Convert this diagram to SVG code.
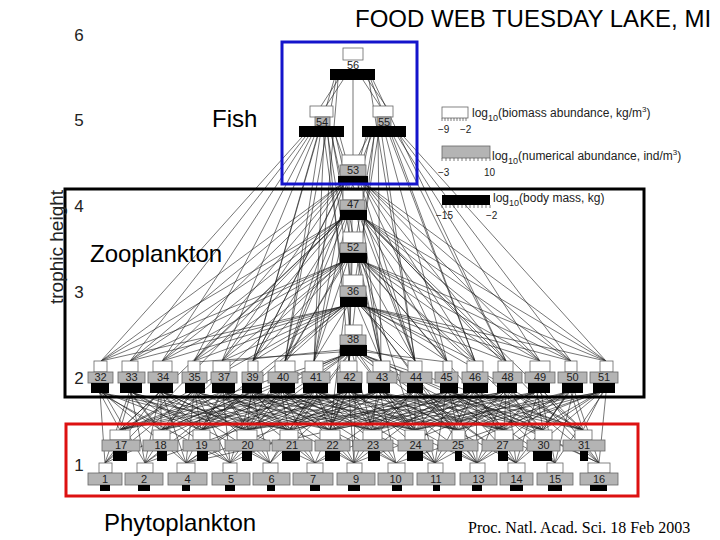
<svg xmlns="http://www.w3.org/2000/svg" width="720" height="540" viewBox="0 0 720 540">
<style>
.w{fill:#fff;stroke:#666;stroke-width:0.8}
.g{fill:#b4b4b4;stroke:#666;stroke-width:0.8}
.k{fill:#000}
.lb{font-family:"Liberation Sans",Arial,sans-serif;font-size:11px;text-anchor:middle;fill:#222}
.big{font-family:"Liberation Sans",Arial,sans-serif;font-size:24px;fill:#000}
.ax{font-family:"Liberation Sans",Arial,sans-serif;font-size:17px;fill:#222;text-anchor:middle}
.lg{font-family:"Liberation Sans",Arial,sans-serif;font-size:12px;fill:#222}
.tk{font-family:"Liberation Sans",Arial,sans-serif;font-size:10px;fill:#222}
.e{fill:none;stroke:#1a1a1a;stroke-width:0.6}
</style>
<rect width="720" height="540" fill="#fff"/>
<g id="connectors" class="e">
<path d="M100 393L120 430M102 393L161 430M100 393L105 463M104 393L145 463M105 393L201 430M103 393L186 463"/>
<path d="M131 393L120 430M131 393L161 430M133 393L201 430M129 393L105 463M131 393L145 463M134 393L247 430M133 393L230 463"/>
<path d="M159 393L120 430M161 393L161 430M162 393L201 430M164 393L247 430M160 393L145 463M162 393L186 463M166 393L289 430M164 393L270 463"/>
<path d="M193 393L161 430M195 393L201 430M197 393L247 430M199 393L289 430M194 393L186 463M196 393L230 463M200 393L330 430M191 393L105 463"/>
<path d="M219 393L120 430M221 393L201 430M223 393L247 430M225 393L289 430M227 393L330 430M223 393L230 463M225 393L270 463M227 393L315 463M229 393L372 430"/>
<path d="M249 393L201 430M251 393L247 430M253 393L289 430M255 393L330 430M257 393L372 430M252 393L270 463M254 393L315 463M248 393L145 463"/>
<path d="M277 393L161 430M279 393L247 430M281 393L289 430M283 393L330 430M285 393L372 430M287 393L415 430M283 393L315 463M286 393L354 463M280 393L230 463"/>
<path d="M310 393L201 430M312 393L247 430M314 393L289 430M316 393L330 430M318 393L372 430M320 393L415 430M316 393L354 463M319 393L396 463M312 393L270 463"/>
<path d="M343 393L247 430M345 393L289 430M347 393L330 430M349 393L372 430M351 393L415 430M353 393L458 430M349 393L354 463M352 393L396 463M355 393L435 463M346 393L315 463"/>
<path d="M373 393L289 430M375 393L330 430M377 393L372 430M379 393L415 430M381 393L458 430M380 393L396 463M383 393L435 463M385 393L477 463M371 393L186 463"/>
<path d="M409 393L247 430M411 393L330 430M413 393L372 430M415 393L415 430M417 393L458 430M419 393L504 430M416 393L435 463M419 393L477 463M411 393L354 463"/>
<path d="M443 393L330 430M445 393L372 430M447 393L415 430M449 393L458 430M451 393L504 430M450 393L477 463M453 393L516 463M446 393L435 463"/>
<path d="M467 393L372 430M470 393L415 430M473 393L458 430M476 393L504 430M479 393L543 430M477 393L516 463M481 393L555 463M469 393L396 463"/>
<path d="M500 393L415 430M503 393L458 430M506 393L504 430M509 393L543 430M512 393L583 430M508 393L516 463M511 393L555 463M514 393L599 463"/>
<path d="M531 393L458 430M534 393L504 430M537 393L543 430M540 393L583 430M541 393L555 463M545 393L599 463M532 393L477 463"/>
<path d="M565 393L504 430M568 393L543 430M571 393L583 430M575 393L599 463M573 393L555 463M563 393L415 430"/>
<path d="M596 393L504 430M599 393L543 430M602 393L583 430M606 393L599 463M600 393L516 463M597 393L458 430"/>
<path d="M101 393L247 430M99 393L230 463M103 393L289 430M132 393L289 430M130 393L186 463M134 393L270 463M163 393L330 430M158 393L105 463M161 393L230 463M165 393L315 463M192 393L120 430M198 393L372 430M196 393L270 463M190 393L145 463M220 393L161 430M228 393L415 430M222 393L186 463M226 393L354 463M248 393L120 430M250 393L161 430M256 393L415 430M258 393L458 430M253 393L230 463M255 393L354 463M257 393L396 463M278 393L120 430M280 393L201 430M288 393L458 430M282 393L186 463M285 393L396 463M287 393L435 463M309 393L120 430M311 393L161 430M321 393L458 430M322 393L504 430M313 393L230 463M318 393L435 463M321 393L477 463M342 393L161 430M344 393L201 430M354 393L504 430M341 393L145 463M347 393L270 463M353 393L477 463M372 393L201 430M374 393L247 430M383 393L504 430M385 393L543 430M376 393L230 463M381 393L354 463M386 393L516 463M418 393L543 430M420 393L583 430M412 393L315 463M420 393L516 463M421 393L555 463M442 393L247 430M444 393L289 430M452 393L543 430M454 393L583 430M447 393L354 463M454 393L555 463M455 393L599 463M466 393L289 430M468 393L330 430M481 393L583 430M472 393L435 463M476 393L477 463M470 393L315 463M499 393L247 430M501 393L372 430M505 393L477 463M503 393L435 463M498 393L186 463M530 393L330 430M532 393L372 430M535 393L415 430M538 393L516 463M533 393L354 463M564 393L458 430M567 393L543 430M566 393L477 463M569 393L516 463M564 393L435 463M595 393L415 430M596 393L372 430M603 393L555 463M598 393L477 463M597 393L396 463"/>
<path d="M340 185L101 361M340 185L130 361M341 185L162 361M341 185L194 361M342 185L222 361M343 185L253 361M344 185L285 361M346 185L314 361M349 185L349 361M358 185L381 361M361 185L415 361M363 185L447 361M364 185L475 361M365 185L506 361M366 185L540 361M366 185L571 361M367 185L606 361"/>
<path d="M340 220L101 361M340 220L130 361M341 220L162 361M341 220L194 361M342 220L222 361M343 220L253 361M345 220L285 361M347 220L314 361M352 220L349 361M358 220L381 361M361 220L415 361M363 220L447 361M364 220L475 361M365 220L506 361M366 220L540 361M366 220L571 361M367 220L606 361M341 220L120 430M366 220L583 430M340 220L105 463M367 220L599 463"/>
<path d="M340 263L101 361M340 263L130 361M341 263L162 361M341 263L194 361M342 263L222 361M343 263L253 361M345 263L285 361M347 263L314 361M352 263L349 361M358 263L381 361M361 263L415 361M363 263L447 361M364 263L475 361M365 263L506 361M366 263L540 361M366 263L571 361M367 263L606 361M341 263L161 430M343 263L247 430M362 263L415 430M364 263L504 430M366 263L543 430"/>
<path d="M340 307L101 361M340 307L130 361M341 307L162 361M341 307L194 361M342 307L222 361M343 307L253 361M345 307L285 361M347 307L314 361M358 307L381 361M361 307L415 361M363 307L447 361M364 307L475 361M365 307L506 361M366 307L540 361M366 307L571 361M367 307L606 361M340 307L120 430M342 307L201 430M345 307L330 430M362 307L458 430M367 307L583 430M343 307L145 463M364 307L477 463"/>
<path d="M340 350L222 362M340 352L194 362M366 350L415 362M366 352L447 362M341 356L120 430M342 356L161 430M343 356L201 430M345 356L247 430M347 356L289 430M350 356L330 430M353 356L372 430M357 356L415 430M360 356L458 430M363 356L504 430M365 356L543 430M366 356L583 430M341 356L105 463M344 356L186 463M348 356L270 463M356 356L354 463M360 356L435 463M364 356L516 463M367 356L599 463"/>
<path d="M353 80L353 155M338 80L321 106M343 80L326 106M363 80L380 106M368 80L386 106M334 80L253 361M336 80L285 361M338 80L314 361M369 80L415 361M371 80L475 361M373 80L506 361"/>
<path d="M340 137L345 155M336 137L348 190M332 137L349 232M328 137L350 275M324 137L350 325M302 137L101 361M305 137L130 361M308 137L162 361M311 137L194 361M314 137L222 361M317 137L253 361M320 137L285 361M324 137L314 361M328 137L349 361M332 137L381 361M336 137L415 361"/>
<path d="M366 137L361 155M370 137L358 190M374 137L357 232M378 137L356 275M368 137L253 361M371 137L285 361M374 137L349 361M378 137L381 361M382 137L415 361M386 137L447 361M390 137L475 361M394 137L506 361M398 137L540 361M401 137L571 361M404 137L606 361"/>
</g>
<g id="fish-nodes">
<g id="n56"><rect class="w" x="343" y="48" width="20" height="12"/><rect class="k" x="330" y="69" width="45" height="11"/><text class="lb" x="353" y="69">56</text></g>
<g id="n54"><rect class="w" x="310" y="106" width="23" height="11"/><rect class="g" x="315" y="117" width="15" height="9"/><rect class="k" x="299" y="126" width="45" height="11"/><text class="lb" x="322" y="126">54</text></g>
<g id="n55"><rect class="w" x="373" y="106" width="20" height="11"/><rect class="g" x="377" y="117" width="14" height="9"/><rect class="k" x="362" y="126" width="44" height="11"/><text class="lb" x="384" y="126">55</text></g>
<g id="n53"><rect class="w" x="342" y="155" width="23" height="10"/><rect class="g" x="340" y="165" width="26" height="11"/><rect class="k" x="338" y="176" width="30" height="9"/><text class="lb" x="353" y="174">53</text></g>
</g>
<g id="column-nodes">
<g id="n47"><rect class="w" x="343" y="190" width="20" height="10"/><rect class="g" x="340" y="200" width="25" height="10"/><rect class="k" x="340" y="210" width="27" height="10"/><text class="lb" x="353" y="208">47</text></g>
<g id="n52"><rect class="w" x="343" y="232" width="20" height="11"/><rect class="g" x="340" y="243" width="26" height="10"/><rect class="k" x="340" y="253" width="27" height="10"/><text class="lb" x="353" y="251">52</text></g>
<g id="n36"><rect class="w" x="343" y="275" width="20" height="11"/><rect class="g" x="340" y="286" width="26" height="11"/><rect class="k" x="340" y="297" width="27" height="10"/><text class="lb" x="353" y="295">36</text></g>
<g id="n38"><rect class="w" x="345" y="325" width="17" height="10"/><rect class="g" x="340" y="335" width="26" height="10"/><rect class="k" x="340" y="345" width="27" height="11"/><text class="lb" x="353" y="343">38</text></g>
</g>
<g id="level2">
<g id="n32"><rect class="w" x="94" y="361" width="13" height="11"/><rect class="g" x="88" y="372" width="25" height="11"/><rect class="k" x="91" y="383" width="18" height="10"/><text class="lb" x="100.5" y="381">32</text></g>
<g id="n33"><rect class="w" x="122" y="361" width="16" height="11"/><rect class="g" x="118" y="372" width="27" height="11"/><rect class="k" x="120" y="383" width="22" height="10"/><text class="lb" x="131.5" y="381">33</text></g>
<g id="n34"><rect class="w" x="153" y="361" width="19" height="11"/><rect class="g" x="148" y="372" width="30" height="11"/><rect class="k" x="150" y="383" width="23" height="10"/><text class="lb" x="163" y="381">34</text></g>
<g id="n35"><rect class="w" x="188" y="361" width="12" height="11"/><rect class="g" x="182" y="372" width="25" height="11"/><rect class="k" x="185" y="383" width="20" height="10"/><text class="lb" x="194.5" y="381">35</text></g>
<g id="n37"><rect class="w" x="213" y="361" width="17" height="11"/><rect class="g" x="211" y="372" width="26" height="11"/><rect class="k" x="212" y="383" width="23" height="10"/><text class="lb" x="224" y="381">37</text></g>
<g id="n39"><rect class="w" x="248" y="361" width="10" height="11"/><rect class="g" x="242" y="372" width="21" height="11"/><rect class="k" x="242" y="383" width="20" height="10"/><text class="lb" x="252.5" y="381">39</text></g>
<g id="n40"><rect class="w" x="275" y="361" width="20" height="11"/><rect class="g" x="268" y="372" width="30" height="11"/><rect class="k" x="270" y="383" width="25" height="10"/><text class="lb" x="283" y="381">40</text></g>
<g id="n41"><rect class="w" x="305" y="361" width="18" height="11"/><rect class="g" x="302" y="372" width="28" height="11"/><rect class="k" x="303" y="383" width="25" height="10"/><text class="lb" x="316" y="381">41</text></g>
<g id="n42"><rect class="w" x="340" y="361" width="17" height="11"/><rect class="g" x="337" y="372" width="25" height="11"/><rect class="k" x="337" y="383" width="25" height="10"/><text class="lb" x="349.5" y="381">42</text></g>
<g id="n43"><rect class="w" x="373" y="361" width="17" height="11"/><rect class="g" x="367" y="372" width="30" height="11"/><rect class="k" x="368" y="383" width="22" height="10"/><text class="lb" x="382" y="381">43</text></g>
<g id="n44"><rect class="w" x="408" y="361" width="14" height="11"/><rect class="g" x="400" y="372" width="32" height="11"/><rect class="k" x="407" y="383" width="16" height="10"/><text class="lb" x="416" y="381">44</text></g>
<g id="n45"><rect class="w" x="443" y="361" width="9" height="11"/><rect class="g" x="435" y="372" width="23" height="11"/><rect class="k" x="440" y="383" width="18" height="10"/><text class="lb" x="446.5" y="381">45</text></g>
<g id="n46"><rect class="w" x="467" y="361" width="16" height="11"/><rect class="g" x="462" y="372" width="26" height="11"/><rect class="k" x="463" y="383" width="25" height="10"/><text class="lb" x="475" y="381">46</text></g>
<g id="n48"><rect class="w" x="498" y="361" width="15" height="11"/><rect class="g" x="493" y="372" width="29" height="11"/><rect class="k" x="497" y="383" width="20" height="10"/><text class="lb" x="507.5" y="381">48</text></g>
<g id="n49"><rect class="w" x="530" y="361" width="20" height="11"/><rect class="g" x="525" y="372" width="30" height="11"/><rect class="k" x="528" y="383" width="22" height="10"/><text class="lb" x="540" y="381">49</text></g>
<g id="n50"><rect class="w" x="565" y="361" width="12" height="11"/><rect class="g" x="558" y="372" width="29" height="11"/><rect class="k" x="562" y="383" width="21" height="10"/><text class="lb" x="572.5" y="381">50</text></g>
<g id="n51"><rect class="w" x="600" y="361" width="13" height="11"/><rect class="g" x="590" y="372" width="28" height="11"/><rect class="k" x="593" y="383" width="22" height="10"/><text class="lb" x="604" y="381">51</text></g>
</g>
<g id="level1-upper">
<g id="n17"><rect class="w" x="110" y="430" width="20" height="10"/><rect class="g" x="102" y="440" width="38" height="11"/><rect class="k" x="113" y="451" width="14" height="10"/><text class="lb" x="121" y="449">17</text></g>
<g id="n18"><rect class="w" x="153" y="430" width="17" height="10"/><rect class="g" x="143" y="440" width="35" height="11"/><rect class="k" x="157" y="451" width="10" height="10"/><text class="lb" x="160.5" y="449">18</text></g>
<g id="n19"><rect class="w" x="193" y="430" width="17" height="10"/><rect class="g" x="183" y="440" width="37" height="11"/><rect class="k" x="197" y="451" width="11" height="10"/><text class="lb" x="201.5" y="449">19</text></g>
<g id="n20"><rect class="w" x="237" y="430" width="20" height="10"/><rect class="g" x="225" y="440" width="45" height="11"/><rect class="k" x="242" y="451" width="10" height="10"/><text class="lb" x="247.5" y="449">20</text></g>
<g id="n21"><rect class="w" x="280" y="430" width="18" height="10"/><rect class="g" x="272" y="440" width="40" height="11"/><rect class="k" x="282" y="451" width="18" height="10"/><text class="lb" x="292" y="449">21</text></g>
<g id="n22"><rect class="w" x="320" y="430" width="20" height="10"/><rect class="g" x="315" y="440" width="35" height="11"/><rect class="k" x="325" y="451" width="15" height="10"/><text class="lb" x="332.5" y="449">22</text></g>
<g id="n23"><rect class="w" x="363" y="430" width="19" height="10"/><rect class="g" x="353" y="440" width="40" height="11"/><rect class="k" x="368" y="451" width="12" height="10"/><text class="lb" x="373" y="449">23</text></g>
<g id="n24"><rect class="w" x="405" y="430" width="20" height="10"/><rect class="g" x="398" y="440" width="35" height="11"/><rect class="k" x="407" y="451" width="16" height="10"/><text class="lb" x="415.5" y="449">24</text></g>
<g id="n25"><rect class="w" x="452" y="430" width="13" height="10"/><rect class="g" x="438" y="440" width="40" height="11"/><rect class="k" x="455" y="451" width="7" height="10"/><text class="lb" x="458" y="449">25</text></g>
<g id="n27"><rect class="w" x="495" y="430" width="18" height="10"/><rect class="g" x="482" y="440" width="41" height="11"/><rect class="k" x="498" y="451" width="10" height="10"/><text class="lb" x="502.5" y="449">27</text></g>
<g id="n30"><rect class="w" x="535" y="430" width="17" height="10"/><rect class="g" x="527" y="440" width="33" height="11"/><rect class="k" x="533" y="451" width="19" height="10"/><text class="lb" x="543.5" y="449">30</text></g>
<g id="n31"><rect class="w" x="575" y="430" width="17" height="10"/><rect class="g" x="563" y="440" width="42" height="11"/><rect class="k" x="580" y="451" width="8" height="10"/><text class="lb" x="584" y="449">31</text></g>
</g>
<g id="level1-lower">
<g id="n1"><rect class="w" x="99" y="463" width="13" height="10"/><rect class="g" x="88" y="473" width="34" height="12"/><rect class="k" x="100" y="485" width="10" height="6"/><text class="lb" x="105" y="483">1</text></g>
<g id="n2"><rect class="w" x="137" y="463" width="16" height="10"/><rect class="g" x="125" y="473" width="38" height="12"/><rect class="k" x="138" y="485" width="12" height="6"/><text class="lb" x="144" y="483">2</text></g>
<g id="n4"><rect class="w" x="177" y="463" width="18" height="10"/><rect class="g" x="168" y="473" width="39" height="12"/><rect class="k" x="182" y="485" width="8" height="6"/><text class="lb" x="187.5" y="483">4</text></g>
<g id="n5"><rect class="w" x="223" y="463" width="14" height="10"/><rect class="g" x="212" y="473" width="38" height="12"/><rect class="k" x="225" y="485" width="10" height="6"/><text class="lb" x="231" y="483">5</text></g>
<g id="n6"><rect class="w" x="263" y="463" width="15" height="10"/><rect class="g" x="253" y="473" width="37" height="12"/><rect class="k" x="267" y="485" width="8" height="6"/><text class="lb" x="271.5" y="483">6</text></g>
<g id="n7"><rect class="w" x="307" y="463" width="16" height="10"/><rect class="g" x="293" y="473" width="40" height="12"/><rect class="k" x="310" y="485" width="10" height="6"/><text class="lb" x="313" y="483">7</text></g>
<g id="n9"><rect class="w" x="347" y="463" width="15" height="10"/><rect class="g" x="337" y="473" width="38" height="12"/><rect class="k" x="348" y="485" width="12" height="6"/><text class="lb" x="356" y="483">9</text></g>
<g id="n10"><rect class="w" x="388" y="463" width="17" height="10"/><rect class="g" x="378" y="473" width="35" height="12"/><rect class="k" x="392" y="485" width="10" height="6"/><text class="lb" x="395.5" y="483">10</text></g>
<g id="n11"><rect class="w" x="428" y="463" width="15" height="10"/><rect class="g" x="417" y="473" width="38" height="12"/><rect class="k" x="433" y="485" width="7" height="6"/><text class="lb" x="436" y="483">11</text></g>
<g id="n13"><rect class="w" x="470" y="463" width="15" height="10"/><rect class="g" x="460" y="473" width="37" height="12"/><rect class="k" x="472" y="485" width="10" height="6"/><text class="lb" x="478.5" y="483">13</text></g>
<g id="n14"><rect class="w" x="508" y="463" width="17" height="10"/><rect class="g" x="500" y="473" width="33" height="12"/><rect class="k" x="510" y="485" width="13" height="6"/><text class="lb" x="516.5" y="483">14</text></g>
<g id="n15"><rect class="w" x="547" y="463" width="16" height="10"/><rect class="g" x="537" y="473" width="36" height="12"/><rect class="k" x="548" y="485" width="14" height="6"/><text class="lb" x="555" y="483">15</text></g>
<g id="n16"><rect class="w" x="588" y="463" width="22" height="10"/><rect class="g" x="580" y="473" width="38" height="12"/><rect class="k" x="590" y="485" width="17" height="6"/><text class="lb" x="599" y="483">16</text></g>
</g>
<g id="group-boxes" fill="none" stroke-width="3">
<rect x="282" y="42" width="135" height="142" stroke="#1414cc"/>
<rect x="65" y="189" width="579" height="208" stroke="#000"/>
<rect x="66" y="424" width="572" height="72" stroke="#dd1111"/>
</g>
<g id="legend">
<rect class="w" x="442" y="107" width="26" height="11"/>
<path d="M442 118v3M445 118v3M448 118v3M451 118v3M454 118v3M457 118v3M460 118v3M463 118v3M466 118v3" stroke="#444" stroke-width="0.7"/>
<text class="tk" x="438" y="133">−9</text><text class="tk" x="460" y="133">−2</text>
<text class="lg" x="472" y="117">log<tspan font-size="9" dy="4">10</tspan><tspan dy="-4">(biomass abundance, kg/m</tspan><tspan font-size="8" dy="-5">3</tspan><tspan dy="5">)</tspan></text>
<rect class="g" x="442" y="146" width="48" height="12"/>
<path d="M442 158v3M446 158v3M450 158v3M454 158v3M458 158v3M462 158v3M466 158v3M470 158v3M474 158v3M478 158v3M482 158v3M486 158v3M490 158v3" stroke="#444" stroke-width="0.7"/>
<text class="tk" x="438" y="176">−3</text><text class="tk" x="484" y="176">10</text>
<text class="lg" x="492" y="160">log<tspan font-size="9" dy="4">10</tspan><tspan dy="-4">(numerical abundance, ind/m</tspan><tspan font-size="8" dy="-5">3</tspan><tspan dy="5">)</tspan></text>
<rect class="k" x="442" y="195" width="48" height="10"/>
<path d="M442 205v3M446 205v3M450 205v3M454 205v3M458 205v3M462 205v3M466 205v3M470 205v3M474 205v3M478 205v3M482 205v3M486 205v3M490 205v3" stroke="#444" stroke-width="0.7"/>
<text class="tk" x="436" y="219">−15</text><text class="tk" x="486" y="219">−2</text>
<text class="lg" x="493" y="202">log<tspan font-size="9" dy="4">10</tspan><tspan dy="-4">(body mass, kg)</tspan></text>
</g>
<g id="axis">
<text class="ax" x="79" y="41">6</text>
<text class="ax" x="79" y="126">5</text>
<text class="ax" x="79" y="212">4</text>
<text class="ax" x="79" y="298">3</text>
<text class="ax" x="79" y="384">2</text>
<text class="ax" x="79" y="471">1</text>
<text class="ax" transform="translate(63,247) rotate(-90)" style="font-size:19px">trophic height</text>
</g>
<g id="labels">
<text class="big" x="355" y="27" style="font-size:24px">FOOD WEB TUESDAY LAKE, MI</text>
<text class="big" x="212" y="127">Fish</text>
<text class="big" x="90" y="262">Zooplankton</text>
<text class="big" x="104" y="531">Phytoplankton</text>
<text x="468" y="533" font-family="'Liberation Serif','Times New Roman',serif" font-size="16" fill="#000">Proc. Natl. Acad. Sci. 18 Feb 2003</text>
</g>
</svg>
